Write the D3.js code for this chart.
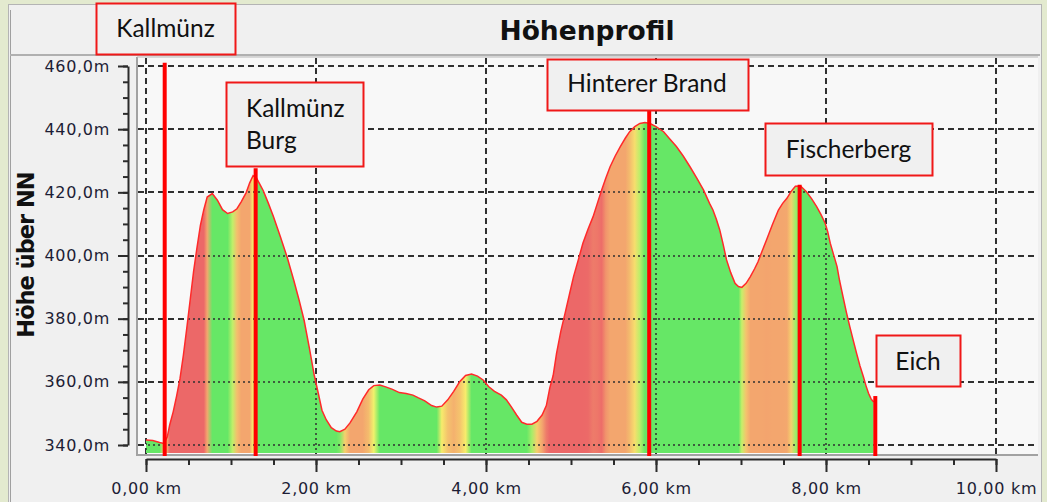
<!DOCTYPE html>
<html>
<head>
<meta charset="utf-8">
<script src="https://cdn.jsdelivr.net/npm/d3@7"></script>
<style>
  html, body { margin: 0; padding: 0; background: #e3eacf; }
  svg { display: block; }
  .axis path, .axis line { stroke: #2b2b2b; stroke-width: 2; }
  .axis text { font-family: "DejaVu Sans", Verdana, sans-serif; font-size: 16px; fill: #1d1d35; letter-spacing: 0.7px; }
  .callout text { font-family: Lato, "Open Sans", sans-serif; font-size: 24.5px; fill: #111; }
</style>
</head>
<body>
<div id="chart"></div>
<script>
// elevation profile (km / m ü. NN)
const distKm = [0.00, 0.08, 0.16, 0.21, 0.25, 0.28, 0.32, 0.36, 0.40, 0.44, 0.48, 0.52, 0.56, 0.60, 0.64, 0.68,
  0.72, 0.78, 0.84, 0.90, 0.96, 1.02, 1.07, 1.12, 1.18, 1.22, 1.26, 1.30, 1.34, 1.38, 1.44, 1.50, 1.58, 1.66,
  1.74, 1.80, 1.86, 1.92, 1.98, 2.03, 2.07, 2.12, 2.18, 2.24, 2.28, 2.34, 2.40, 2.48, 2.55, 2.62, 2.68, 2.75,
  2.82, 2.90, 2.98, 3.06, 3.14, 3.20, 3.28, 3.36, 3.42, 3.48, 3.55, 3.62, 3.69, 3.76, 3.83, 3.90, 3.97, 4.03,
  4.10, 4.18, 4.24, 4.30, 4.36, 4.42, 4.48, 4.54, 4.60, 4.66, 4.71, 4.75, 4.79, 4.83, 4.88, 4.93, 4.98, 5.03,
  5.09, 5.14, 5.20, 5.26, 5.31, 5.36, 5.41, 5.46, 5.52, 5.58, 5.64, 5.69, 5.75, 5.81, 5.87, 5.93, 6.00, 6.09,
  6.16, 6.24, 6.32, 6.40, 6.48, 6.56, 6.63, 6.67, 6.71, 6.75, 6.79, 6.83, 6.88, 6.93, 6.97, 7.01, 7.06, 7.11,
  7.16, 7.20, 7.25, 7.30, 7.37, 7.44, 7.49, 7.54, 7.59, 7.64, 7.70, 7.77, 7.83, 7.89, 7.94, 7.99, 8.02, 8.05,
  8.09, 8.13, 8.16, 8.20, 8.24, 8.28, 8.32, 8.36, 8.40, 8.44, 8.47, 8.50, 8.53, 8.56];
const elevM = [341.6, 341.4, 340.8, 340.5, 342.5, 346.5, 350.5, 355.5, 361, 368.5, 377, 386, 395, 402.5, 409.5, 414.5,
  418.5, 419.6, 417.5, 414.5, 413.3, 413.8, 414.8, 417, 420, 423, 425.3, 424.5, 422.5, 420.5, 416.5, 412.3, 406, 399.5,
  392, 386, 379.5, 371, 362, 356, 351, 348, 345.5, 344.4, 344.2, 345, 347, 350.5, 354.5, 357.5, 358.8, 359,
  358.4, 357.6, 356.6, 356.3, 355.8, 355, 354, 352.5, 352, 352.3, 354.3, 357, 360, 362, 362.5, 361.8, 360.5, 358.5,
  357, 355.8, 354.3, 352, 349.5, 347.2, 346.6, 346.6, 347.5, 349.5, 352.5, 358, 362, 369, 376, 381.7, 387.5, 393.3,
  399, 403.9, 408.3, 412.3, 416.5, 420.7, 424.5, 428.1, 431.5, 434.5, 437.2, 439.2, 440.8, 441.8, 442.1, 441.8, 440.8, 439.2,
  437, 434.5, 431.5, 428.1, 424.5, 420.7, 416.5, 414.4, 411.5, 408.1, 403.5, 398.6, 394.5, 391.2, 390.2, 389.9, 391.2, 393.3,
  395.8, 398, 401.5, 404.9, 409.8, 414.4, 416.5, 418.1, 420.3, 421.9, 422, 420.2, 418, 415.5, 413, 410.2, 407.5, 403.9,
  400.2, 396.5, 392, 387, 382, 377.5, 373.2, 369, 365, 361.6, 358.8, 356.4, 354.6, 353.6];

// waypoints
const markerNames = [["Kallmünz"], ["Kallmünz", "Burg"], ["Hinterer Brand"], ["Fischerberg"], ["Eich"]];
const markerKm = [0.22, 1.29, 5.92, 7.69, 8.58];
const markerTopM = [461, 427.6, 446, 422.4, 355.5];

const yTicks = [340, 360, 380, 400, 420, 440, 460];
const xTicks = [0, 2, 4, 6, 8, 10];

const W = 1047, H = 502;
const plot = { left: 137, right: 1038, top: 57, bottom: 455 };

const x = d3.scaleLinear().domain([0, 10]).range([146, 996]);
const y = d3.scaleLinear().domain([340, 460]).range([445, 66]);

const svg = d3.select("#chart").append("svg")
  .attr("width", W)
  .attr("height", H)
  .attr("viewBox", `0 0 ${W} ${H}`);

const defs = svg.append("defs");

// outer panel
svg.append("rect").attr("x", 0).attr("y", 0).attr("width", W).attr("height", H).attr("fill", "#e3eacf");
svg.append("rect")
  .attr("x", 8.5).attr("y", 4.5).attr("width", 1033).attr("height", 500)
  .attr("fill", "#f0f0f0").attr("stroke", "#b4b4b4");
svg.append("line")
  .attr("x1", 10.5).attr("x2", 10.5).attr("y1", 10).attr("y2", H)
  .attr("stroke", "#a0a0a0").attr("stroke-width", 1);
svg.append("line")
  .attr("x1", 10).attr("x2", 1040).attr("y1", 55).attr("y2", 55)
  .attr("stroke", "#b0b0b0").attr("stroke-width", 2);

svg.append("text")
  .attr("x", 587).attr("y", 40)
  .attr("text-anchor", "middle")
  .attr("font-family", "'DejaVu Sans', Verdana, sans-serif")
  .attr("font-weight", "bold")
  .attr("font-size", 26.5)
  .attr("fill", "#111")
  .text("Höhenprofil");

svg.append("text")
  .attr("transform", "translate(34,255) rotate(-90)")
  .attr("text-anchor", "middle")
  .attr("font-family", "'DejaVu Sans', Verdana, sans-serif")
  .attr("font-weight", "bold")
  .attr("font-size", 22.5)
  .attr("letter-spacing", -1)
  .attr("fill", "#111")
  .text("Höhe über NN");

// plot background
svg.append("rect")
  .attr("x", plot.left).attr("y", plot.top)
  .attr("width", plot.right - plot.left).attr("height", plot.bottom - plot.top)
  .attr("fill", "#f8f8f8");
svg.append("path")
  .attr("d", `M${plot.left},${plot.top} V${plot.bottom} H${plot.right}`)
  .attr("fill", "none").attr("stroke", "#a2a2a2").attr("stroke-width", 2);
svg.append("line")
  .attr("x1", plot.left).attr("x2", plot.right).attr("y1", plot.top).attr("y2", plot.top)
  .attr("stroke", "#b8b8b8").attr("stroke-width", 1);

function drawGrid(g, dash, width) {
  g.selectAll(".hgrid").data(yTicks).join("line")
    .attr("class", "hgrid")
    .attr("x1", plot.left + 1).attr("x2", plot.right)
    .attr("y1", d => Math.round(y(d))).attr("y2", d => Math.round(y(d)));
  g.selectAll(".vgrid").data(xTicks).join("line")
    .attr("class", "vgrid")
    .attr("x1", d => Math.round(x(d))).attr("x2", d => Math.round(x(d)))
    .attr("y1", plot.top + 1).attr("y2", plot.bottom - 1);
  g.attr("stroke", "#303030").attr("stroke-width", width).attr("stroke-dasharray", dash);
}
drawGrid(svg.append("g"), "6,4", 2);

// profile
const profile = distKm.map((d, i) => ({ km: d, elev: elevM[i] }));
const fillBottom = 453;

const area = d3.area()
  .x(d => x(d.km))
  .y0(fillBottom)
  .y1(d => y(d.elev));
const line = d3.line()
  .x(d => x(d.km))
  .y(d => y(d.elev));

// colour the fill by the climb rate (m per km), smoothed over two points each side
const green = "#66e766", yellow = "#f7f36c", orange = "#f3a66e", red = "#ec6868";
const slopeColor = d3.scaleLinear()
  .domain([5, 15, 38, 68, 80])
  .range([green, yellow, orange, orange, red])
  .clamp(true);

const n = profile.length;
const stops = profile.map((p, i) => {
  const a = profile[Math.max(0, i - 2)], b = profile[Math.min(n - 1, i + 2)];
  return { km: p.km, color: slopeColor((b.elev - a.elev) / (b.km - a.km)) };
});
const kmEnd = distKm[n - 1];

const grad = defs.append("linearGradient")
  .attr("id", "slopeGrad")
  .attr("gradientUnits", "userSpaceOnUse")
  .attr("x1", x(0)).attr("x2", x(kmEnd))
  .attr("y1", 0).attr("y2", 0);
grad.selectAll("stop").data(stops).join("stop")
  .attr("offset", d => d.km / kmEnd)
  .attr("stop-color", d => d.color);

defs.append("clipPath").attr("id", "areaClip")
  .append("path").datum(profile).attr("d", area);

svg.append("path").datum(profile).attr("d", area).attr("fill", "url(#slopeGrad)");

// grid shows through the fill as dots
drawGrid(svg.append("g").attr("clip-path", "url(#areaClip)"), "2,3", 1.5);

svg.append("path").datum(profile)
  .attr("d", line)
  .attr("fill", "none")
  .attr("stroke", "#ff2a2a")
  .attr("stroke-width", 1.5);

// waypoint lines
svg.selectAll(".marker").data(markerKm).join("line")
  .attr("class", "marker")
  .attr("x1", d => x(d)).attr("x2", d => x(d))
  .attr("y1", (d, i) => y(markerTopM[i]))
  .attr("y2", 456)
  .attr("stroke", "#ff0000")
  .attr("stroke-width", 4);

// axes
const axisX = 128, axisY = 459;

svg.append("g").attr("class", "axis").attr("transform", `translate(${axisX},0)`)
  .call(d3.axisLeft(y).tickValues(yTicks).tickSizeInner(10).tickSizeOuter(0).tickPadding(8)
    .tickFormat(d => d3.format(".1f")(d).replace(".", ",") + "m"));
svg.append("g").attr("class", "axis").attr("transform", `translate(${axisX},0)`)
  .call(d3.axisLeft(y).ticks(24).tickSize(5).tickFormat(""))
  .select(".domain").remove();

svg.append("g").attr("class", "axis").attr("transform", `translate(0,${axisY})`)
  .call(d3.axisBottom(x).tickValues(xTicks).tickSizeInner(13).tickSizeOuter(0).tickPadding(11)
    .tickFormat(d => d3.format(".2f")(d).replace(".", ",") + " km"));
svg.append("g").attr("class", "axis").attr("transform", `translate(0,${axisY})`)
  .call(d3.axisBottom(x).ticks(20).tickSize(6).tickFormat(""))
  .select(".domain").remove();

// callout boxes: offsets from the waypoint line
const boxes = [
  { dx: -69, top: 3, w: 139, h: 51, align: "middle", tx: 69.5, ty: [34] },
  { dx: -30, top: 82, w: 137, h: 84, align: "start", tx: 20, ty: [35, 67] },
  { dx: -102, top: 59, w: 201, h: 51, align: "middle", tx: 100, ty: [33] },
  { dx: -35, top: 123, w: 167, h: 52, align: "middle", tx: 83.5, ty: [35] },
  { dx: 1, top: 335, w: 84, h: 51, align: "middle", tx: 42, ty: [35] }
];

const callouts = svg.selectAll(".callout").data(markerKm).join("g")
  .attr("class", "callout")
  .attr("transform", (d, i) => `translate(${Math.round(x(d)) + boxes[i].dx},${boxes[i].top})`);

callouts.append("rect")
  .attr("x", 0.5).attr("y", 0.5)
  .attr("width", (d, i) => boxes[i].w).attr("height", (d, i) => boxes[i].h)
  .attr("fill", "#f0f0f0")
  .attr("stroke", "#f01818")
  .attr("stroke-width", 2);

callouts.each(function (d, i) {
  const g = d3.select(this);
  markerNames[i].forEach((txt, j) => {
    g.append("text")
      .attr("x", boxes[i].tx)
      .attr("y", boxes[i].ty[j])
      .attr("text-anchor", boxes[i].align)
      .text(txt);
  });
});
</script>
</body>
</html>
